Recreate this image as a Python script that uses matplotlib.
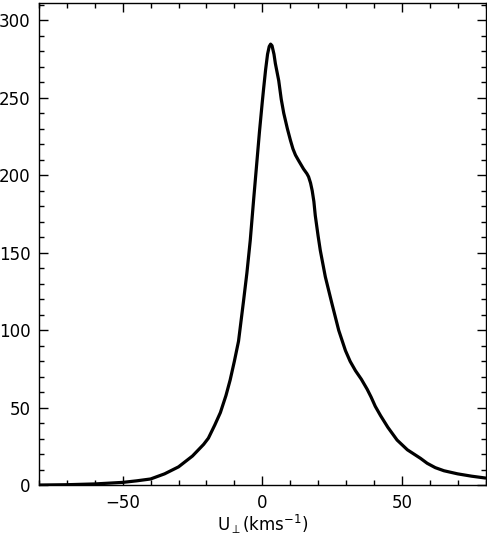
import numpy as np
import matplotlib
matplotlib.use("Agg")
import matplotlib.pyplot as plt
from matplotlib.ticker import MultipleLocator

# velocity (km/s) and counts
u_perp = [-80, -70, -60, -50, -45, -40, -35, -30, -25, -21, -19.3, -17, -15,
          -13, -11.5, -10, -8.5, -6.7, -5.5, -4.3, -3.1, -2, -1, 0, 0.5, 1.2,
          1.9, 2.5, 3, 3.5, 4.2, 4.7, 5.9, 6.8, 7.7, 9, 10.1, 11, 11.9, 13,
          14.8, 16, 16.6, 17.3, 17.9, 18.5, 19, 20, 20.8, 22.6, 25, 27.4,
          29.8, 31.5, 33.4, 35.5, 37.6, 39, 40.5, 42.4, 45, 48.3, 52, 56.7,
          59.1, 62, 65.1, 70, 75, 80]
counts = [0.3, 0.5, 1.0, 2.0, 3.0, 4.2, 7.5, 12, 19, 26.5, 30.5, 39, 47,
          58, 68, 80, 93, 119, 137, 158, 184, 207, 228, 247, 256, 268,
          278, 283, 284.5, 283.5, 278, 272, 261, 249, 240, 230, 222.5, 217,
          213, 209.5, 204, 201, 199, 195, 190, 183, 174, 161, 151.5, 134.5,
          117, 100, 87, 80, 74, 68.5, 62, 57, 51, 45, 37.5, 29.3, 23, 17.5,
          14.3, 11.5, 9.5, 7.5, 6.0, 4.8]

fig = plt.figure(figsize=(4.87, 5.38), dpi=100)
ax = fig.add_axes([0.080, 0.0976, 0.917, 0.8968])

ax.plot(u_perp, counts, color="black", linewidth=2.3,
        solid_joinstyle="round", solid_capstyle="round")

ax.set_xlim(-80, 80)
ax.set_ylim(0, 311)
ax.xaxis.set_major_locator(MultipleLocator(50))
ax.xaxis.set_minor_locator(MultipleLocator(10))
ax.yaxis.set_major_locator(MultipleLocator(50))
ax.yaxis.set_minor_locator(MultipleLocator(10))
ax.tick_params(which="both", direction="in", top=True, right=True,
               width=1, labelsize=12, color="black")
ax.tick_params(which="major", length=6.5, pad=6)
ax.tick_params(which="minor", length=3.6)
for sp in ax.spines.values():
    sp.set_linewidth(1)

ax.set_xlabel(r"U$_{\perp}$(kms$^{-1}$)", fontsize=12, labelpad=1)

fig.savefig("out.png", dpi=100)
